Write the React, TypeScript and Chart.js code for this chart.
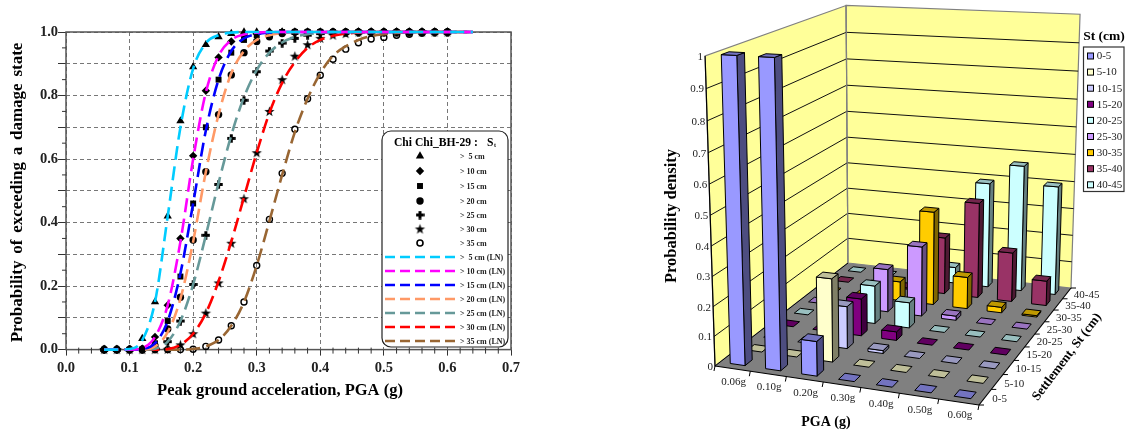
import React, { useEffect, useRef } from "react";
import { Chart, registerables } from "chart.js";
import { drawPoint } from "chart.js/helpers";

Chart.register(...registerables);

// ---------- left chart data ----------
const pgaMarkers = [0.06,0.08,0.10,0.12,0.14,0.16,0.18,0.20,0.22,0.24,0.26,0.28,0.30,0.32,0.34,0.36,0.38,0.40,0.42,0.44,0.46,0.48,0.50,0.52,0.54,0.56,0.58,0.60];
const pgaCurve = [0.06,0.08,0.10,0.12,0.14,0.16,0.18,0.20,0.22,0.24,0.26,0.28,0.30,0.32,0.34,0.36,0.38,0.40,0.42,0.44,0.46,0.48,0.50,0.52,0.54,0.56,0.58,0.60,0.62,0.64];

const pts5 = [0,0,0,0.035,0.15,0.42,0.72,0.89,0.96,0.985,0.995,1,1,1,1,1,1,1,1,1,1,1,1,1,1,1,1,1];
const pts10 = [0,0,0,0.003,0.04,0.14,0.35,0.61,0.815,0.92,0.97,0.99,0.995,1,1,1,1,1,1,1,1,1,1,1,1,1,1,1];
const pts15 = [0,0,0,0.001,0.02,0.09,0.23,0.46,0.70,0.85,0.935,0.975,0.99,0.996,1,1,1,1,1,1,1,1,1,1,1,1,1,1];
const pts20 = [0,0,0,0,0.012,0.065,0.165,0.345,0.56,0.74,0.865,0.935,0.97,0.985,0.995,1,1,1,1,1,1,1,1,1,1,1,1,1];
const pts25 = [0,0,0,0,0.002,0.025,0.09,0.205,0.36,0.52,0.665,0.785,0.875,0.94,0.965,0.98,0.99,0.995,1,1,1,1,1,1,1,1,1,1];
const pts30 = [0,0,0,0,0,0.001,0.015,0.05,0.115,0.21,0.335,0.475,0.62,0.75,0.85,0.924,0.96,0.98,0.99,0.995,1,1,1,1,1,1,1,1];
const pts35 = [0,0,0,0,0,0,0,0.001,0.01,0.03,0.075,0.15,0.265,0.41,0.555,0.694,0.79,0.864,0.914,0.946,0.966,0.978,0.983,0.99,0.993,0.997,1,1];

const ln5 = [0,0,0.002,0.03,0.15,0.42,0.70,0.885,0.965,0.99,0.998,1,1,1,1,1,1,1,1,1,1,1,1,1,1,1,1,1,1,1];
const ln10 = [0,0,0,0.005,0.04,0.14,0.34,0.60,0.81,0.925,0.975,0.992,0.998,1,1,1,1,1,1,1,1,1,1,1,1,1,1,1,1,1];
const ln15 = [0,0,0,0.002,0.02,0.09,0.24,0.46,0.69,0.85,0.94,0.98,0.993,0.998,1,1,1,1,1,1,1,1,1,1,1,1,1,1,1,1];
const ln20 = [0,0,0,0,0.01,0.055,0.16,0.34,0.56,0.74,0.87,0.94,0.975,0.99,0.997,1,1,1,1,1,1,1,1,1,1,1,1,1,1,1];
const ln25 = [0,0,0,0,0.003,0.025,0.09,0.205,0.36,0.525,0.675,0.795,0.88,0.935,0.967,0.985,0.993,0.997,1,1,1,1,1,1,1,1,1,1,1,1];
const ln30 = [0,0,0,0,0,0.002,0.015,0.05,0.115,0.215,0.34,0.48,0.62,0.745,0.84,0.905,0.95,0.975,0.988,0.995,0.998,1,1,1,1,1,1,1,1,1];
const ln35 = [0,0,0,0,0,0,0,0.002,0.01,0.03,0.075,0.15,0.265,0.405,0.55,0.685,0.79,0.87,0.925,0.955,0.975,0.987,0.993,0.997,1,1,1,1,1,1];

const ptsSeries = [pts5, pts10, pts15, pts20, pts25, pts30, pts35];
const lnSeries = [ln5, ln10, ln15, ln20, ln25, ln30, ln35];
const ptsLabels = [">  5 cm", "> 10 cm", "> 15 cm", "> 20 cm", "> 25 cm", "> 30 cm", "> 35 cm"];
const lnLabels = [">  5 cm (LN)", "> 10 cm (LN)", "> 15 cm (LN)", "> 20 cm (LN)", "> 25 cm (LN)", "> 30 cm (LN)", "> 35 cm (LN)"];
const lnColors = ["#00CCFF", "#FF00FF", "#0000FF", "#FF9966", "#669999", "#FF0000", "#996633"];

// ---------- right chart data ----------
const pgaCats = ["0.06g", "0.10g", "0.20g", "0.30g", "0.40g", "0.50g", "0.60g"];
const stCats = ["0-5", "5-10", "10-15", "15-20", "20-25", "25-30", "30-35", "35-40", "40-45"];
const st0 = [1, 1, 0.115, 0, 0, 0, 0];
const st5 = [0, 0, 0.28, 0, 0, 0, 0];
const st10 = [0, 0, 0.145, 0.01, 0, 0, 0];
const st15 = [0, 0, 0.13, 0.03, 0, 0, 0];
const st20 = [0, 0, 0.135, 0.09, 0, 0, 0];
const st25 = [0, 0, 0.155, 0.25, 0.015, 0, 0];
const st30 = [0, 0, 0.07, 0.34, 0.115, 0.02, 0.005];
const st35 = [0, 0, 0.005, 0.21, 0.35, 0.18, 0.09];
const st40 = [0, 0, 0, 0.06, 0.39, 0.465, 0.4];
const stSeries = [st0, st5, st10, st15, st20, st25, st30, st35, st40];
const stColors = ["#9999FF", "#FFFFCC", "#CCCCFF", "#800080", "#CCFFFF", "#CC99FF", "#FFCC00", "#993366", "#CCFFFF"];
const densityTicks = [0, 0.1, 0.2, 0.3, 0.4, 0.5, 0.6, 0.7, 0.8, 0.9, 1];

const SERIF = '"Liberation Serif", "Times New Roman", serif';

function makeStar() {
  const c = document.createElement("canvas");
  c.width = 13; c.height = 13;
  const g = c.getContext("2d")!;
  g.fillStyle = "#000";
  g.beginPath();
  for (let k = 0; k < 10; k++) {
    const r = k % 2 ? 2.1 : 5.4;
    const a = -Math.PI / 2 + (k * Math.PI) / 5;
    g.lineTo(6.5 + r * Math.cos(a), 6.8 + r * Math.sin(a));
  }
  g.closePath();
  g.fill();
  return c;
}
function makePlus() {
  const c = document.createElement("canvas");
  c.width = 9; c.height = 9;
  const g = c.getContext("2d")!;
  g.fillStyle = "#000";
  g.fillRect(3, 0.3, 3, 8.4);
  g.fillRect(0.3, 3, 8.4, 3);
  return c;
}

function text(ctx, s, x, y, font, color = "#000", align = "center", rot = 0, spacing = "0px", words = "0px") {
  ctx.save();
  ctx.translate(x, y);
  if (rot) ctx.rotate(rot);
  ctx.font = font;
  ctx.fillStyle = color;
  ctx.textAlign = align;
  ctx.textBaseline = "middle";
  ctx.letterSpacing = spacing;
  ctx.wordSpacing = words;
  ctx.fillText(s, 0, 0);
  ctx.restore();
}

function leftChart(canvas) {
  const star = makeStar();
  const plus = makePlus();
  const styles = [
    { s: "triangle", r: 4.8 }, { s: "rectRot", r: 4.2 }, { s: "rect", r: 4.2 }, { s: "circle", r: 3.7 },
    { s: plus, r: 5 }, { s: star, r: 6 }, { s: "circle", r: 3, open: true },
  ];
  const markerSets = ptsSeries.map((vals, k) => ({
    label: ptsLabels[k],
    data: vals.map((v, i) => ({ x: pgaMarkers[i], y: v })),
    showLine: false,
    pointStyle: styles[k].s,
    pointRadius: styles[k].r,
    pointBackgroundColor: styles[k].open ? "rgba(0,0,0,0)" : "#000",
    pointBorderColor: "#000",
    pointBorderWidth: styles[k].open ? 1.4 : 0,
    order: 20 - k,
    clip: false,
  }));
  const lineSets = lnSeries.map((vals, k) => ({
    label: lnLabels[k],
    data: vals.map((v, i) => ({ x: pgaCurve[i], y: v })),
    showLine: true,
    borderColor: lnColors[k],
    borderWidth: 2.6,
    borderDash: [14, 6.5],
    pointRadius: 0,
    cubicInterpolationMode: "monotone",
    order: k,
    clip: false,
  }));
  const deco = {
    id: "deco",
    beforeDatasetsDraw(chart) {
      const { ctx, chartArea: a, scales } = chart;
      ctx.save();
      ctx.strokeStyle = "#555";
      ctx.lineWidth = 1.5;
      ctx.strokeRect(a.left, a.top, a.width, a.height);
      ctx.lineWidth = 1;
      ctx.strokeStyle = "#333";
      for (let t = 0; t <= 35; t++) {
        if (t % 5 === 0) continue;
        const x = scales.x.getPixelForValue(t * 0.02);
        ctx.beginPath(); ctx.moveTo(x, a.bottom - 2); ctx.lineTo(x, a.bottom + 4); ctx.stroke();
      }
      for (let t = 0; t < 20; t++) {
        if (t % 2 === 0) continue;
        const y = scales.y.getPixelForValue(t * 0.05);
        ctx.beginPath(); ctx.moveTo(a.left - 4, y); ctx.lineTo(a.left, y); ctx.stroke();
      }
      ctx.restore();
    },
    afterDraw(chart) {
      const { ctx } = chart;
      text(ctx, "Probability of exceeding a damage state", 18, 192.5, `bold 17px ${SERIF}`, "#000", "center", -Math.PI / 2, "0px", "2.5px");
      text(ctx, "Peak ground acceleration, PGA (g)", 280, 391, `bold 16.5px ${SERIF}`, "#000", "center");
      // legend box
      ctx.save();
      ctx.fillStyle = "#fff";
      ctx.strokeStyle = "#222";
      ctx.lineWidth = 1.2;
      ctx.beginPath();
      ctx.roundRect(382, 131, 126, 216, 9);
      ctx.fill();
      ctx.stroke();
      ctx.restore();
      text(ctx, "Chi Chi_BH-29 :", 394, 143, `bold 11.6px ${SERIF}`, "#000", "left");
      text(ctx, "S", 487, 143, `bold 11.6px ${SERIF}`, "#000", "left");
      text(ctx, "t", 494, 145.5, `bold 6px ${SERIF}`, "#000", "left");
      const rowsA = [156, 171, 186, 201, 215, 229, 243];
      const rowsB = [257, 271, 285, 299, 313, 327, 341];
      const f = `bold 8px ${SERIF}`;
      ptsLabels.forEach((l, k) => {
        const st = styles[k];
        ctx.save();
        ctx.fillStyle = st.open ? "rgba(0,0,0,0)" : "#000";
        ctx.strokeStyle = "#000";
        ctx.lineWidth = st.open ? 1.6 : 0;
        drawPoint(ctx, { pointStyle: st.s, radius: st.r, rotation: 0, borderWidth: st.open ? 1.6 : 0 }, 420, rowsA[k]);
        ctx.restore();
        text(ctx, l, 460, rowsA[k] + 1, f, "#222", "left");
      });
      lnLabels.forEach((l, k) => {
        ctx.save();
        ctx.strokeStyle = lnColors[k];
        ctx.lineWidth = 2.4;
        ctx.setLineDash([10, 5]);
        ctx.beginPath();
        ctx.moveTo(385, rowsB[k]);
        ctx.lineTo(455, rowsB[k]);
        ctx.stroke();
        ctx.restore();
        text(ctx, l, 460, rowsB[k] + 1, f, "#222", "left");
      });
    },
  };
  return new Chart(canvas, {
    type: "scatter",
    data: { datasets: [...lineSets, ...markerSets] },
    plugins: [deco],
    options: {
      animation: false,
      responsive: false,
      layout: { padding: { left: 0, right: 29, top: 32, bottom: 33.4 } },
      plugins: { legend: { display: false }, tooltip: { enabled: false }, title: { display: false } },
      scales: {
        x: {
          type: "linear", min: 0, max: 0.7,
          afterFit(s) { s.height = 50; },
          ticks: {
            stepSize: 0.1, padding: 4, maxRotation: 0, color: "#222",
            font: { family: SERIF, size: 14.5, weight: "bold" },
            callback: (v) => Number(v).toFixed(1),
          },
          grid: { color: "#777", lineWidth: 1, tickLength: 6, tickColor: "#333" },
          border: { display: false, dash: [4, 3] },
        },
        y: {
          type: "linear", min: 0, max: 1,
          afterFit(s) { s.width = 66; },
          ticks: {
            stepSize: 0.1, padding: 0, color: "#222",
            font: { family: SERIF, size: 14.5, weight: "bold" },
            callback: (v) => (Math.round(Number(v) * 10) % 2 === 0 ? Number(v).toFixed(1) : ""),
          },
          grid: { color: "#777", lineWidth: 1, tickLength: 8, tickColor: "#333" },
          border: { display: false, dash: [4, 3] },
        },
      },
    },
  });
}

// A single camera: the floor's projective map plus one column for height
function makeCamera(p, cx, cy, ci) {
  const [p0, p1, p2, p3] = p;
  const dx1 = p1[0] - p2[0], dx2 = p3[0] - p2[0], sx = p0[0] - p1[0] + p2[0] - p3[0];
  const dy1 = p1[1] - p2[1], dy2 = p3[1] - p2[1], sy = p0[1] - p1[1] + p2[1] - p3[1];
  const den = dx1 * dy2 - dx2 * dy1;
  const g = (sx * dy2 - dx2 * sy) / den;
  const h = (dx1 * sy - sx * dy1) / den;
  const a = p1[0] - p0[0] + g * p1[0], b = p3[0] - p0[0] + h * p3[0];
  const d = p1[1] - p0[1] + g * p1[1], e = p3[1] - p0[1] + h * p3[1];
  return (u, v, w) => {
    const q = g * u + h * v + 1 + ci * w;
    return [(a * u + b * v + p0[0] + cx * w) / q, (d * u + e * v + p0[1] + cy * w) / q];
  };
}

function shade(hex, f) {
  const n = parseInt(hex.slice(1), 16);
  return `rgb(${((n >> 16) & 255) * f},${((n >> 8) & 255) * f},${(n & 255) * f})`;
}

function rightChart(canvas) {
  const OFFSET = 540;
  const project = makeCamera([[715, 366], [979, 405], [1071, 288], [848, 263]], -48, -313, -0.054);
  const poly = (ctx, pts, fill, stroke = "#000", lw = 1) => {
    ctx.beginPath();
    pts.forEach((p, i) => (i ? ctx.lineTo(p[0], p[1]) : ctx.moveTo(p[0], p[1])));
    ctx.closePath();
    if (fill) { ctx.fillStyle = fill; ctx.fill(); }
    if (stroke) { ctx.strokeStyle = stroke; ctx.lineWidth = lw; ctx.stroke(); }
  };
  const seg = (ctx, a, b, color, lw = 1) => {
    ctx.strokeStyle = color; ctx.lineWidth = lw;
    ctx.beginPath(); ctx.moveTo(a[0], a[1]); ctx.lineTo(b[0], b[1]); ctx.stroke();
  };
  const deco = {
    id: "bars3d",
    afterDatasetsDraw(chart) {
      const { ctx, chartArea: ar, scales } = chart;
      const U = (i) => (scales.x.getPixelForValue(i) - ar.left) / ar.width;
      const V = (j) => (scales.st.getPixelForValue(j) - ar.top) / ar.height;
      const W = (val) => (ar.bottom - scales.y.getPixelForValue(val)) / ar.height;
      ctx.save();
      ctx.translate(-OFFSET, 0);
      // walls and floor
      poly(ctx, [project(0, 0, 0), project(0, 1, 0), project(0, 1, 1), project(0, 0, 1)], "#FFFF99", "#808080", 1.2);
      poly(ctx, [project(0, 1, 0), project(1, 1, 0), project(1, 1, 1), project(0, 1, 1)], "#FFFF99", "#808080", 1.2);
      poly(ctx, [project(0, 0, 0), project(1, 0, 0), project(1, 1, 0), project(0, 1, 0)], "#808080", null);
      // gridlines
      densityTicks.forEach((t) => {
        const w = W(t);
        if (t > 0 && t < 1) {
          seg(ctx, project(0, 0, w), project(0, 1, w), "#111", 1);
          seg(ctx, project(0, 1, w), project(1, 1, w), "#111", 1);
        }
        const e = project(0, 0, w);
        text(ctx, String(t), e[0] - 2, e[1] + 1, `11px ${SERIF}`, "#222", "right");
      });
      // axes lines
      seg(ctx, project(0, 0, 0), project(0, 0, 1), "#000", 1.2);
      seg(ctx, project(0, 0, 0), project(0, 1, 0), "#000", 1);
      seg(ctx, project(0, 0, 0), project(1, 0, 0), "#000", 1.2);
      seg(ctx, project(1, 0, 0), project(1, 1, 0), "#000", 1.2);
      seg(ctx, project(0, 1, 0), project(0, 1, 1), "#808080", 1.2);
      // bars, far rows first
      for (let j = stCats.length - 1; j >= 0; j--) {
        const base = stColors[j];
        const vals = chart.data.datasets[j].data;
        for (let i = 0; i < pgaCats.length; i++) {
          const du = 0.21 / pgaCats.length, dv = 0.21 / stCats.length;
          const u0 = U(i) - du, u1 = U(i) + du, v0 = V(j) - dv, v1 = V(j) + dv;
          const w = W(vals[i]);
          if (w > 0) {
            poly(ctx, [project(u1, v0, 0), project(u1, v1, 0), project(u1, v1, w), project(u1, v0, w)], shade(base, 0.5));
            poly(ctx, [project(u0, v0, 0), project(u1, v0, 0), project(u1, v0, w), project(u0, v0, w)], base);
          }
          poly(ctx, [project(u0, v0, w), project(u1, v0, w), project(u1, v1, w), project(u0, v1, w)], shade(base, 0.75));
        }
      }
      // front axis ticks and labels
      pgaCats.forEach((l, i) => {
        const a = project(i / pgaCats.length, 0, 0);
        seg(ctx, a, [a[0] - 1, a[1] + 5], "#000", 1);
        const p = project(U(i), 0, 0);
        text(ctx, l, p[0] + 1, p[1] + 13.5, `11px ${SERIF}`, "#222", "center");
      });
      seg(ctx, project(1, 0, 0), [project(1, 0, 0)[0] - 1, project(1, 0, 0)[1] + 5], "#000", 1);
      stCats.forEach((l, j) => {
        const a = project(1, j / stCats.length, 0);
        seg(ctx, a, [a[0] + 5, a[1]], "#000", 1);
        const p = project(1, V(j), 0);
        text(ctx, l, p[0] + 7, p[1] + 2, `11px ${SERIF}`, "#222", "left");
      });
      seg(ctx, project(1, 1, 0), [project(1, 1, 0)[0] + 5, project(1, 1, 0)[1]], "#000", 1);
      // titles
      text(ctx, "Probability density", 672, 216, `bold 16.5px ${SERIF}`, "#000", "center", -Math.PI / 2);
      text(ctx, "PGA (g)", 826, 422, `bold 14px ${SERIF}`, "#000", "center");
      text(ctx, "Settlement, St (cm)", 1067, 357, `bold 13px ${SERIF}`, "#000", "center", -53 * Math.PI / 180);
      // legend
      text(ctx, "St (cm)", 1104, 36.5, `bold 13.5px ${SERIF}`, "#000", "center");
      ctx.strokeStyle = "#333";
      ctx.lineWidth = 1.2;
      ctx.strokeRect(1083.5, 47, 40.5, 144.5);
      stCats.forEach((l, j) => {
        const y = 56 + j * 16.1;
        ctx.fillStyle = stColors[j];
        ctx.fillRect(1087.5, y - 3, 6, 6);
        ctx.strokeStyle = "#000";
        ctx.lineWidth = 1;
        ctx.strokeRect(1087.5, y - 3, 6, 6);
        text(ctx, l, 1096.7, y + 0.5, `11px ${SERIF}`, "#222", "left");
      });
      ctx.restore();
    },
  };
  return new Chart(canvas, {
    type: "bar",
    data: {
      labels: pgaCats,
      datasets: stSeries.map((vals, k) => ({
        label: stCats[k],
        data: vals,
        backgroundColor: "rgba(0,0,0,0)",
        borderWidth: 0,
      })),
    },
    plugins: [deco],
    options: {
      animation: false,
      responsive: false,
      plugins: { legend: { display: false }, tooltip: { enabled: false }, title: { display: false } },
      scales: {
        x: { type: "category", display: false, offset: true },
        y: { type: "linear", display: false, min: 0, max: 1 },
        st: { type: "category", axis: "y", labels: stCats, display: false, offset: true },
      },
    },
  });
}

export default function App() {
  const a = useRef<HTMLCanvasElement>(null);
  const b = useRef<HTMLCanvasElement>(null);
  useEffect(() => {
    const c1 = leftChart(a.current);
    const c2 = rightChart(b.current);
    return () => { c1.destroy(); c2.destroy(); };
  }, []);
  return (
    <div style={{ position: "fixed", left: 0, top: 0, width: 1134, height: 433, overflow: "hidden", background: "#fff" }}>
      <canvas ref={a} width={540} height={433} style={{ position: "absolute", left: 0, top: 0, width: 540, height: 433, display: "block" }} />
      <canvas ref={b} width={594} height={433} style={{ position: "absolute", left: 540, top: 0, width: 594, height: 433, display: "block" }} />
    </div>
  );
}
